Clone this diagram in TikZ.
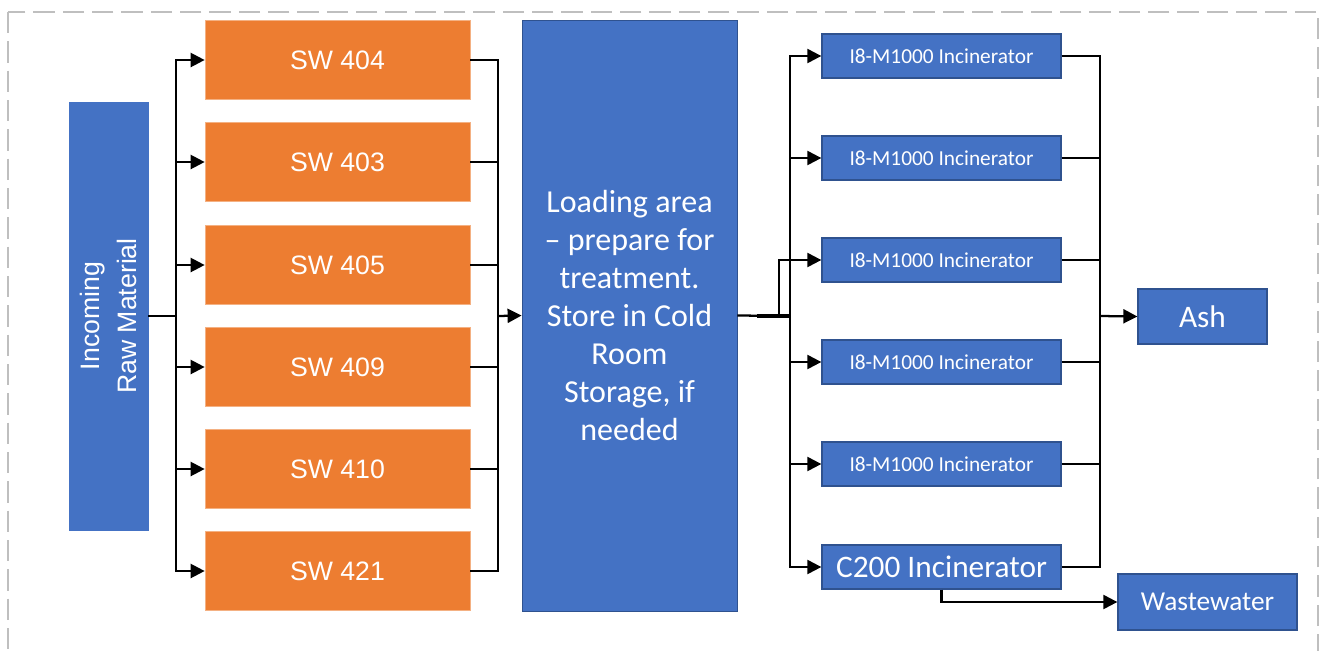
\documentclass[tikz,border=0pt]{standalone}
\usepackage{fontspec}
\setmainfont{Liberation Sans}
\newfontfamily\calfont{Carlito}
\usetikzlibrary{arrows.meta}

\definecolor{boxblue}{HTML}{4472C4}
\definecolor{edgeblue}{HTML}{2F528F}
\definecolor{boxorange}{HTML}{ED7D31}
\definecolor{framegray}{HTML}{BFBFBF}

\tikzset{
  swbox/.style={fill=boxorange, draw=boxorange!60!white, line width=0.5pt, text=white,
    minimum width=198.75pt, minimum height=59.25pt, font=\fontsize{20}{24}\selectfont},
  incbox/.style={fill=boxblue, draw=edgeblue, line width=1pt, text=white,
    minimum width=179.25pt, minimum height=33pt, font=\calfont\fontsize{16}{19}\selectfont},
  endbox/.style={fill=boxblue, draw=edgeblue, line width=1pt, text=white,
    font=\calfont\fontsize{20.5}{24}\selectfont},
  link/.style={line width=1.7pt, line join=miter},
  arr/.style={link, -{Triangle[length=10.5pt,width=10.5pt]}}
}

\begin{document}
\begin{tikzpicture}[x=0.75pt, y=-0.75pt]

	\useasboundingbox (0, 0) rectangle (1327, 650);
	\draw[framegray, line width=2.2pt, dash pattern=on 16pt off 6pt] (8, 12) rectangle (1318, 720);

		\node[fill=boxblue, draw=boxblue, text=white, rotate=90, align=center,
			minimum width=321pt, minimum height=59.25pt, font=\fontsize{20}{28}\selectfont]
			(incoming) at (108.5, 316){Incoming\\Raw Material};

		\node[swbox] (sw404) at (337.5, 60){SW 404};
		\node[swbox] (sw403) at (337.5, 162){SW 403};
		\node[swbox] (sw405) at (337.5, 265){SW 405};
		\node[swbox] (sw409) at (337.5, 367){SW 409};
		\node[swbox] (sw410) at (337.5, 469){SW 410};
		\node[swbox] (sw421) at (337.5, 571){SW 421};

		\node[fill=boxblue, draw=edgeblue, line width=0.6pt, text=white, align=center,
			minimum width=161.25pt, minimum height=443.25pt, font=\calfont\fontsize{24}{28.5}\selectfont]
			(loading) at (629.5, 315.5){Loading area\\\textendash{} prepare for\\treatment.\\Store in Cold\\Room\\Storage, if\\needed};

		\node[incbox] (inc1) at (941.5, 56){I8-M1000 Incinerator};
		\node[incbox] (inc2) at (941.5, 158){I8-M1000 Incinerator};
		\node[incbox] (inc3) at (941.5, 260){I8-M1000 Incinerator};
		\node[incbox] (inc4) at (941.5, 362){I8-M1000 Incinerator};
		\node[incbox] (inc5) at (941.5, 464){I8-M1000 Incinerator};
		\node[incbox, font=\calfont\fontsize{23.5}{26}\selectfont] (c200) at (941.5, 567){C200 Incinerator};

		\node[endbox, minimum width=96.75pt, minimum height=41.25pt, font=\calfont\fontsize{23.5}{26}\selectfont] (ash) at (1202.5, 316.5){Ash};
		\node[endbox, minimum width=134.25pt, minimum height=42pt] (wastewater) at (1207.5, 602){Wastewater};

		% split from the raw material
		\coordinate (split1) at (176, 316);
		\draw[link] (incoming.south) -- (split1);
		\draw[arr] (split1) |- (sw404.west);
		\draw[arr] (split1) |- (sw403.west);
		\draw[arr] (split1) |- (sw405.west);
		\draw[arr] (split1) |- (sw409.west);
		\draw[arr] (split1) |- (sw410.west);
		\draw[arr] (split1) |- (sw421.west);

		% into loading area
		\coordinate (merge1) at (498, 316);
		\draw[link] (sw404.east) -| (merge1);
		\draw[link] (sw403.east) -| (merge1);
		\draw[link] (sw405.east) -| (merge1);
		\draw[link] (sw409.east) -| (merge1);
		\draw[link] (sw410.east) -| (merge1);
		\draw[link] (sw421.east) -| (merge1);
		\draw[arr] (merge1) -- (loading.west);

		% out to the incinerators
		\coordinate (split2) at (790, 316);
		\coordinate (split2b) at (779, 316);
		\draw[link] (loading.east) -- (split2);
		\draw[line width=2.6pt] (757, 316) -- (split2);
		\draw[arr] (split2) |- (inc1.west);
		\draw[arr] (split2) |- (inc2.west);
		\draw[arr] (split2b) |- (inc3.west);
		\draw[arr] (split2) |- (inc4.west);
		\draw[arr] (split2) |- (inc5.west);
		\draw[arr] (split2) |- (c200.west);

		% residues
		\coordinate (merge2) at (1100, 316);
		\draw[link] (inc1.east) -| (merge2);
		\draw[link] (inc2.east) -| (merge2);
		\draw[link] (inc3.east) -| (merge2);
		\draw[link] (inc4.east) -| (merge2);
		\draw[link] (inc5.east) -| (merge2);
		\draw[link] (c200.east) -| (merge2);
		\draw[arr] (merge2) -- (ash.west);
		\draw[arr] (c200.south) |- (wastewater.west);

	\end{tikzpicture}
\end{document}
